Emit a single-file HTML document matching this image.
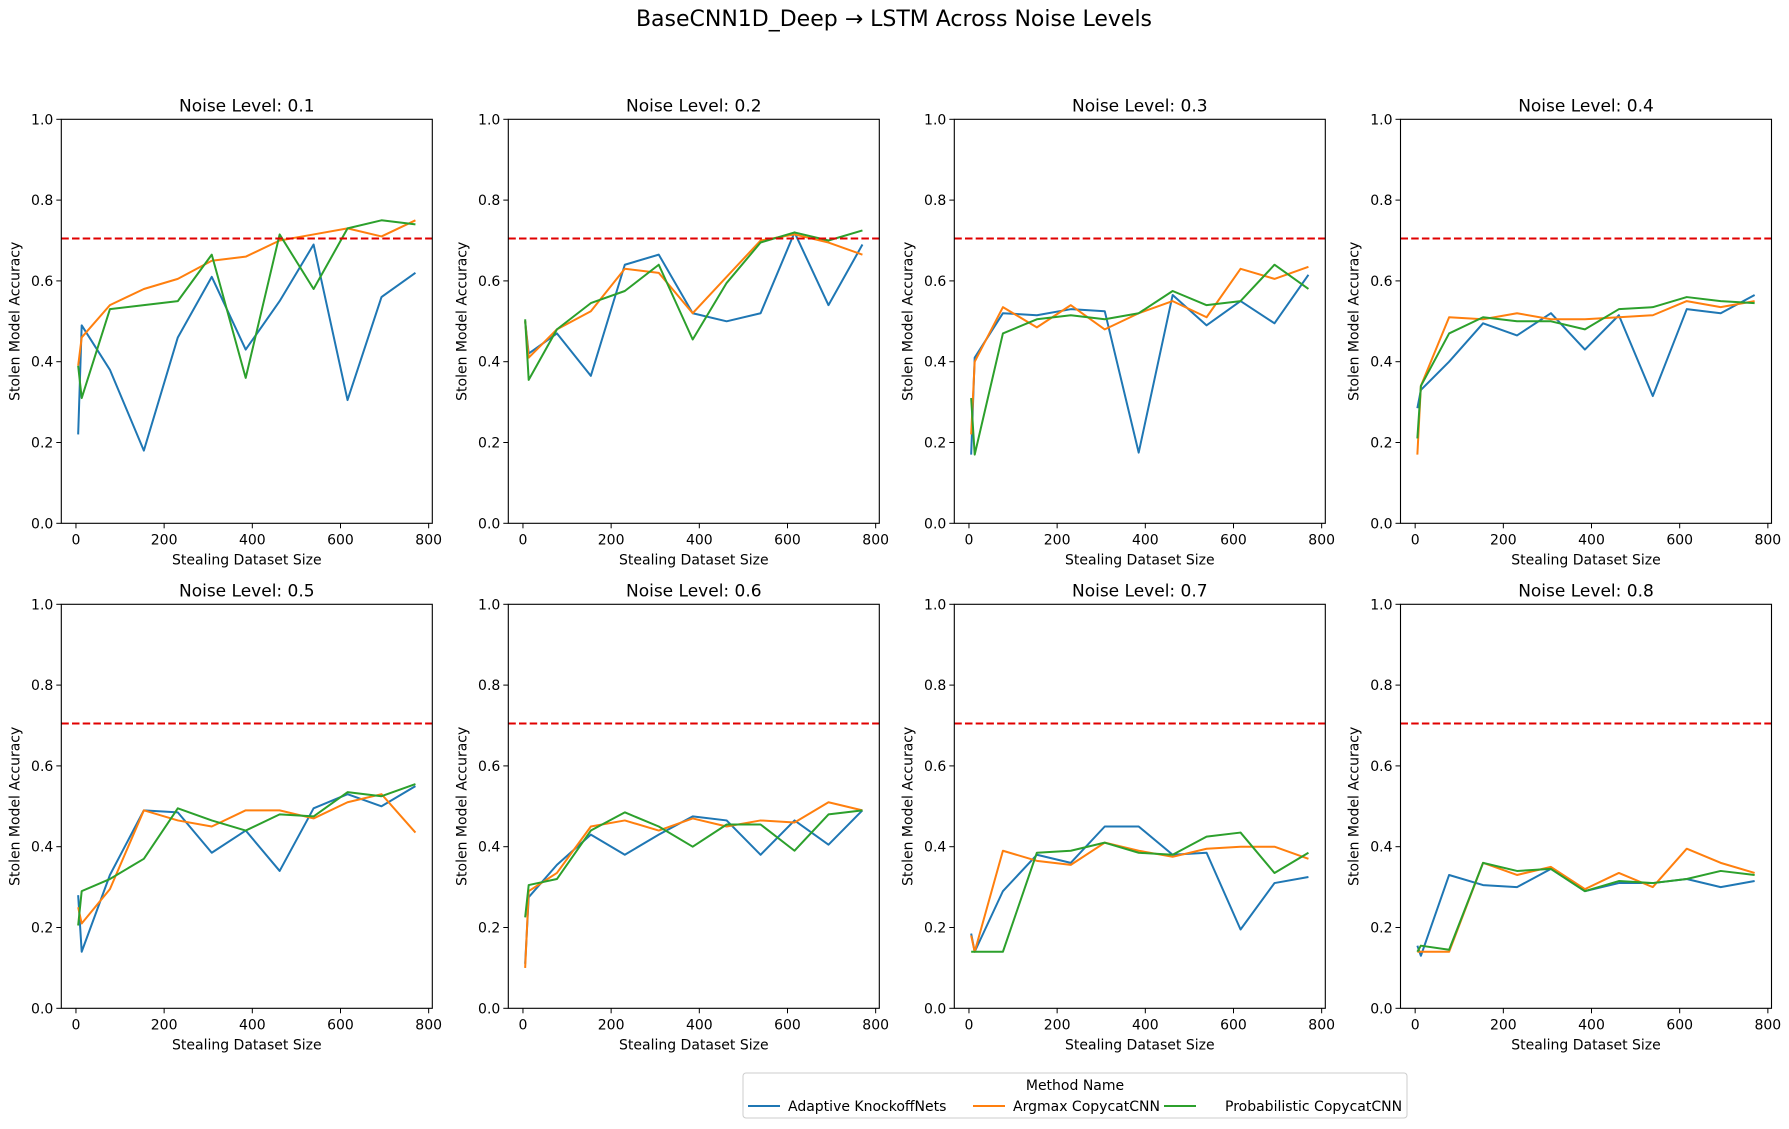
<!DOCTYPE html>
<html><head><meta charset="utf-8"><style>
html,body{margin:0;padding:0;background:#fff}
svg{display:block;font-family:"DejaVu Sans","Liberation Sans",sans-serif}
</style></head><body>
<svg id="fig" width="1789" height="1129" viewBox="0 0 1789 1129" xmlns="http://www.w3.org/2000/svg">
<rect width="1789" height="1129" fill="#fff"/>
<text x="894" y="26" font-size="22" text-anchor="middle" fill="#000">BaseCNN1D_Deep → LSTM Across Noise Levels</text>
<g id="panels"></g>
<g>
<rect x="743" y="1073" width="664" height="45" rx="3" fill="#fff" stroke="#ccc" stroke-width="1"/>
<text x="1075" y="1090" font-size="14" text-anchor="middle">Method Name</text>
<g><line x1="748" y1="1106" x2="780" y2="1106" stroke="#1f77b4" stroke-width="2"/><text x="788" y="1111" font-size="14">Adaptive KnockoffNets</text></g>
<g><line x1="973" y1="1106" x2="1005" y2="1106" stroke="#ff7f0e" stroke-width="2"/><text x="1013" y="1111" font-size="14">Argmax CopycatCNN</text></g>
<g><line x1="1164" y1="1106" x2="1196" y2="1106" stroke="#2ca02c" stroke-width="2"/><text x="1225" y="1111" font-size="14">Probabilistic CopycatCNN</text></g>
</g>
</svg>
<script>
const noiseLevels = ["0.1","0.2","0.3","0.4","0.5","0.6","0.7","0.8"];
const datasetSizes = [5, 13, 77, 154, 231, 308, 385, 462, 539, 616, 693, 770];
const xTicks = [0, 200, 400, 600, 800];
const yTicks = [0.0, 0.2, 0.4, 0.6, 0.8, 1.0];
const threshold = 0.705;
const adaptive = [
 [0.22,0.49,0.38,0.18,0.46,0.61,0.43,0.55,0.69,0.305,0.56,0.62],
 [0.50,0.42,0.47,0.365,0.64,0.665,0.52,0.50,0.52,0.72,0.54,0.69],
 [0.17,0.41,0.52,0.515,0.53,0.525,0.175,0.565,0.49,0.55,0.495,0.615],
 [0.285,0.33,0.40,0.495,0.465,0.52,0.43,0.515,0.315,0.53,0.52,0.565],
 [0.28,0.14,0.33,0.49,0.485,0.385,0.44,0.34,0.495,0.53,0.50,0.55],
 [0.11,0.275,0.355,0.43,0.38,0.43,0.475,0.465,0.38,0.465,0.405,0.49],
 [0.185,0.14,0.29,0.38,0.36,0.45,0.45,0.38,0.385,0.195,0.31,0.325],
 [0.155,0.13,0.33,0.305,0.30,0.345,0.29,0.31,0.31,0.32,0.30,0.315]
];
const argmax = [
 [0.39,0.46,0.54,0.58,0.605,0.65,0.66,0.70,0.715,0.73,0.71,0.75],
 [0.50,0.41,0.48,0.525,0.63,0.62,0.52,0.61,0.70,0.715,0.695,0.665],
 [0.22,0.40,0.535,0.485,0.54,0.48,0.52,0.55,0.51,0.63,0.605,0.635],
 [0.17,0.34,0.51,0.505,0.52,0.505,0.505,0.51,0.515,0.55,0.535,0.55],
 [0.25,0.21,0.295,0.49,0.465,0.45,0.49,0.49,0.47,0.51,0.53,0.435],
 [0.10,0.29,0.335,0.45,0.465,0.44,0.47,0.45,0.465,0.46,0.51,0.49],
 [0.18,0.14,0.39,0.365,0.355,0.41,0.39,0.375,0.395,0.40,0.40,0.37],
 [0.14,0.14,0.14,0.36,0.33,0.35,0.295,0.335,0.30,0.395,0.36,0.335]
];
const probabilistic = [
 [0.39,0.31,0.53,0.54,0.55,0.665,0.36,0.715,0.58,0.73,0.75,0.74],
 [0.505,0.355,0.48,0.545,0.575,0.64,0.455,0.595,0.695,0.72,0.70,0.725],
 [0.31,0.17,0.47,0.505,0.515,0.505,0.52,0.575,0.54,0.55,0.64,0.58],
 [0.21,0.34,0.47,0.51,0.50,0.50,0.48,0.53,0.535,0.56,0.55,0.545],
 [0.205,0.29,0.32,0.37,0.495,0.465,0.44,0.48,0.475,0.535,0.525,0.555],
 [0.225,0.305,0.32,0.44,0.485,0.45,0.40,0.455,0.455,0.39,0.48,0.49],
 [0.14,0.14,0.14,0.385,0.39,0.41,0.385,0.38,0.425,0.435,0.335,0.385],
 [0.14,0.155,0.145,0.36,0.34,0.345,0.29,0.315,0.31,0.32,0.34,0.33]
];
const NS="http://www.w3.org/2000/svg";
const root=document.getElementById('panels');
const lefts=[61.3,508.3,954.3,1400.5], tops=[119.3,604.3], W=371, H=404;
function mk(tag,attrs,parent){const e=document.createElementNS(NS,tag);for(const k in attrs)e.setAttribute(k,attrs[k]);parent.appendChild(e);return e;}
const xMin=-33.25,xMax=808.25;
for(let p=0;p<8;p++){
  const L=lefts[p%4],T=tops[Math.floor(p/4)];
  const sx=v=>L+(v-xMin)/(xMax-xMin)*W;
  const sy=v=>T+H-(v-0)/(1-0)*H;
  const g=mk('g',{},root);
  
  
  const t=mk('text',{x:L+W/2,y:T-8,'font-size':17,'text-anchor':'middle'},g);
  t.textContent='Noise Level: '+noiseLevels[p];
  
  
  xTicks.forEach(v=>{
    mk('line',{x1:sx(v),x2:sx(v),y1:T+H,y2:T+H+5,stroke:'#000','stroke-width':1},g);
    const tx=mk('text',{x:sx(v),y:T+H+21,'font-size':14,'text-anchor':'middle'},g);
    tx.textContent=String(v);
    
    
  });
  yTicks.forEach(v=>{
    mk('line',{x1:L-5,x2:L,y1:sy(v),y2:sy(v),stroke:'#000','stroke-width':1},g);
    const ty=mk('text',{x:L-8,y:sy(v)+5,'font-size':14,'text-anchor':'end'},g);
    ty.textContent=v.toFixed(1);
    
    
  });
  const xl=mk('text',{x:L+W/2,y:T+H+41,'font-size':14,'text-anchor':'middle'},g);
  xl.textContent='Stealing Dataset Size';
  
  
  const yl=mk('text',{x:0,y:0,'font-size':14,'text-anchor':'middle',transform:`translate(${L-42},${T+H/2}) rotate(-90)`},g);
  yl.textContent='Stolen Model Accuracy';
  
  
  const series=[[adaptive[p],'#1f77b4','line-adaptive-knockoffnets'],[argmax[p],'#ff7f0e','line-argmax-copycatcnn'],[probabilistic[p],'#2ca02c','line-probabilistic-copycatcnn']];
  series.forEach(s=>{
    const pts=datasetSizes.map((x,i)=>sx(x).toFixed(2)+','+sy(s[0][i]).toFixed(2)).join(' ');
    const pl=mk('polyline',{points:pts,fill:'none',stroke:s[1],'stroke-width':2,'stroke-linejoin':'round'},g);
    
    
  });
  const th=mk('line',{x1:L,x2:L+W,y1:sy(threshold),y2:sy(threshold),stroke:'#e00000','stroke-width':2,'stroke-dasharray':'7.5,3.2'},g);
  
  
  const fr=mk('rect',{x:L,y:T,width:W,height:H,fill:'none',stroke:'#000','stroke-width':1.1},g);
  
  
}
</script>
</body></html>
